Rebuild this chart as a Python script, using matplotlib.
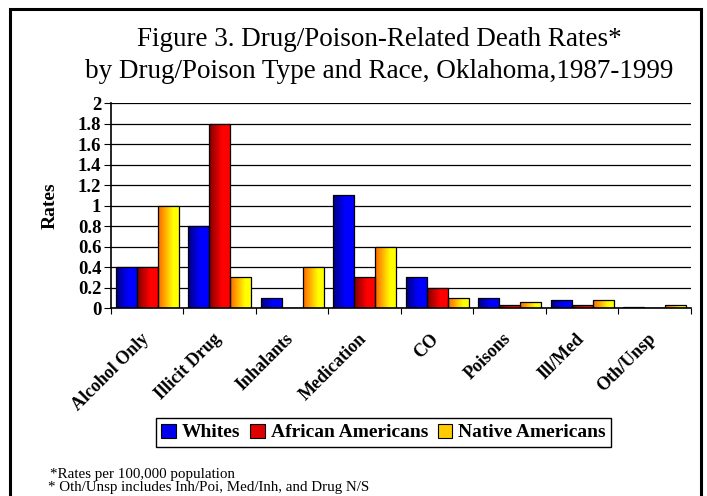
import numpy as np
import matplotlib
matplotlib.use('Agg')
import matplotlib.pyplot as plt
from matplotlib.colors import LinearSegmentedColormap
from matplotlib.patches import Rectangle, Patch
from matplotlib.transforms import ScaledTranslation

categories = ['Alcohol Only', 'Illicit Drug', 'Inhalants', 'Medication',
              'CO', 'Poisons', 'Ill/Med', 'Oth/Unsp']
whites = [0.4, 0.8, 0.1, 1.1, 0.3, 0.1, 0.08, 0.01]
african = [0.4, 1.8, 0.0, 0.3, 0.2, 0.03, 0.03, 0.0]
native = [1.0, 0.3, 0.4, 0.6, 0.1, 0.06, 0.08, 0.03]
series_names = ['Whites', 'African Americans', 'Native Americans']
yticks = [0, 0.2, 0.4, 0.6, 0.8, 1, 1.2, 1.4, 1.6, 1.8, 2]
ytick_labels = ['0', '0.2', '0.4', '0.6', '0.8', '1', '1.2', '1.4', '1.6', '1.8', '2']

plt.rcParams['font.family'] = ['Liberation Serif', 'DejaVu Serif']

# dark -> bright gradient for each series
grads = [
    [(0.0, '#000080'), (0.55, '#0000FF'), (1.0, '#0000FF')],
    [(0.0, '#800000'), (0.6, '#FF0000'), (1.0, '#FF0000')],
    [(0.0, '#FF6600'), (0.7, '#FFFF00'), (1.0, '#FFFF00')],
]
cmaps = [LinearSegmentedColormap.from_list('g%d' % i, g) for i, g in enumerate(grads)]
flat_colors = ['#0000EE', '#E00000', '#FFCC00']

fig = plt.figure(figsize=(7.07, 4.96), dpi=100)
ax = fig.add_axes([0.157, 0.379, 0.820, 0.413])

x = np.arange(len(categories))
w = 0.29
ax.set_xlim(-0.5, len(categories) - 0.5)
ax.set_ylim(0, 2)

grad_img = np.linspace(0, 1, 64).reshape(1, -1)
for i, vals in enumerate([whites, african, native]):
    bars = ax.bar(x + (i - 1) * w, vals, w, color='none', edgecolor='black',
                  linewidth=0.9, zorder=3)
    for b in bars:
        if b.get_height() <= 0:
            continue
        bx, by = b.get_x(), b.get_y()
        im = ax.imshow(grad_img, cmap=cmaps[i], aspect='auto',
                       extent=[bx, bx + b.get_width(), by, by + b.get_height()],
                       zorder=2.5)
        im.set_clip_path(b)

ax.set_xlim(-0.5, len(categories) - 0.5)
ax.set_ylim(0, 2)

ax.set_yticks(yticks)
ax.set_yticklabels(ytick_labels, fontsize=13.5, fontweight='bold')
ax.yaxis.grid(True, color='black', linewidth=0.9)
ax.set_axisbelow(True)

ax.set_xticks(np.arange(len(categories) + 1) - 0.5)
ax.set_xticklabels([])
ax.set_xticks(x, minor=True)
ax.set_xticklabels(categories, minor=True, rotation=45, ha='right',
                   rotation_mode='anchor', fontsize=13, fontweight='bold')
ax.tick_params(axis='x', which='minor', length=0, pad=16)
ax.tick_params(axis='x', which='major', length=4, direction='out')
ax.tick_params(axis='y', length=5, direction='out', pad=2)
shift = ScaledTranslation(-7 / 100, 0, fig.dpi_scale_trans)
for lab in ax.get_xticklabels(minor=True):
    lab.set_transform(lab.get_transform() + shift)

for s in ['top', 'right']:
    ax.spines[s].set_visible(False)
ax.spines['left'].set_linewidth(1.2)
ax.spines['bottom'].set_linewidth(1.2)

ax.set_ylabel('Rates', fontsize=14, fontweight='bold', labelpad=14)

fig.text(0.537, 0.920, 'Figure 3. Drug/Poison-Related Death Rates*',
         ha='center', va='center', fontsize=19.5)
fig.text(0.537, 0.856, 'by Drug/Poison Type and Race, Oklahoma,1987-1999',
         ha='center', va='center', fontsize=19.5)

handles = [Patch(facecolor=c, edgecolor='black', linewidth=0.8) for c in flat_colors]
leg = fig.legend(handles, series_names, loc='center', bbox_to_anchor=(0.5425, 0.128),
                 ncol=3, fancybox=False, edgecolor='black', framealpha=1,
                 prop={'weight': 'bold', 'size': 14}, handlelength=0.75,
                 handleheight=0.75, handletextpad=0.3, columnspacing=0.5,
                 borderpad=0.3, borderaxespad=0)
leg.get_frame().set_linewidth(1.0)

fig.text(0.071, 0.044, '*Rates per 100,000 population', fontsize=10.8, va='center')
fig.text(0.068, 0.017, '* Oth/Unsp includes Inh/Poi, Med/Inh, and Drug N/S',
         fontsize=10.8, va='center')

fig.patches.append(Rectangle((0.0145, -0.1), 0.977, 1.082, transform=fig.transFigure,
                             fill=False, edgecolor='black', linewidth=2.2))

fig.savefig('out.png', dpi=100)
